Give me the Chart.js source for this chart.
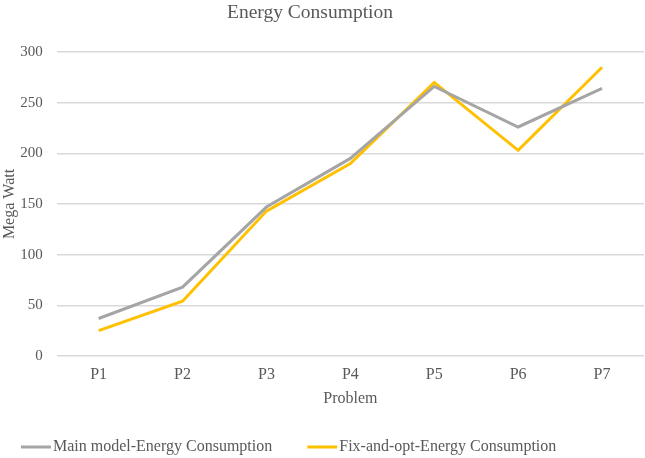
<!DOCTYPE html>
<html>
<head>
<meta charset="utf-8">
<script src="https://cdn.jsdelivr.net/npm/chart.js@4"></script>
<style>
  html, body { margin: 0; padding: 0; background: #fff; }
  #wrap { width: 645px; height: 458px; }
</style>
</head>
<body>
<div id="wrap"><canvas id="chart" width="645" height="458"></canvas></div>
<script>
const FONT = "'Liberation Serif', 'Times New Roman', serif";
const TEXT_COLOR = "#595959";
const GRAY = "#A5A5A5";
const YELLOW = "#FFC000";
const TITLE = "Energy Consumption";

const problems = ["P1", "P2", "P3", "P4", "P5", "P6", "P7"];
const mainModel = [37, 68, 147, 195, 266, 226, 264];
const fixAndOpt = [25, 54, 143, 190, 270, 203, 285];
const yTicks = [0, 50, 100, 150, 200, 250, 300];

// title and bottom legend drawn by hand so they sit where the original has them
const titleAndLegend = {
  id: "titleAndLegend",
  afterDraw(chart) {
    const ctx = chart.ctx;
    ctx.save();
    ctx.fillStyle = TEXT_COLOR;
    ctx.textBaseline = "middle";
    ctx.textAlign = "center";
    ctx.font = `19.5px ${FONT}`;
    ctx.fillText(TITLE, 310, 13);

    ctx.font = `16px ${FONT}`;
    ctx.textAlign = "left";
    const y = 447;
    let x = 21;
    chart.data.datasets.forEach((ds) => {
      ctx.strokeStyle = ds.borderColor;
      ctx.lineWidth = 3;
      ctx.beginPath();
      ctx.moveTo(x, y);
      ctx.lineTo(x + 30, y);
      ctx.stroke();
      ctx.fillText(ds.label, x + 32, y);
      x += 32 + ctx.measureText(ds.label).width + 35;
    });
    ctx.restore();
  },
};

new Chart(document.getElementById("chart"), {
  type: "line",
  data: {
    labels: problems,
    datasets: [
      { label: "Main model-Energy Consumption", data: mainModel, borderColor: GRAY, backgroundColor: GRAY, borderWidth: 3, pointRadius: 0, tension: 0 },
      { label: "Fix-and-opt-Energy Consumption", data: fixAndOpt, borderColor: YELLOW, backgroundColor: YELLOW, borderWidth: 3, pointRadius: 0, tension: 0 },
    ],
  },
  plugins: [titleAndLegend],
  options: {
    responsive: false,
    animation: false,
    layout: { padding: { left: 0, right: 1, top: 52, bottom: 50 } },
    plugins: {
      title: { display: false },
      legend: { display: false },
      tooltip: { enabled: false },
    },
    scales: {
      x: {
        offset: true,
        grid: { display: false, drawTicks: false },
        border: { display: false },
        ticks: { color: TEXT_COLOR, font: { family: FONT, size: 16 }, padding: 9.4 },
        title: { display: true, text: "Problem", color: TEXT_COLOR, font: { family: FONT, size: 16 }, padding: { top: -5.2, bottom: 0 } },
      },
      y: {
        min: 0,
        max: 300,
        afterBuildTicks: (axis) => { axis.ticks = yTicks.map((v) => ({ value: v })); },
        grid: { color: "#D9D9D9", lineWidth: 1.5, drawTicks: false },
        border: { display: false },
        ticks: { color: TEXT_COLOR, font: { family: FONT, size: 15 }, padding: 14 },
        title: { display: true, text: "Mega Watt", color: TEXT_COLOR, font: { family: FONT, size: 16 }, padding: { top: 0, bottom: -13 } },
      },
    },
  },
});
</script>
</body>
</html>
